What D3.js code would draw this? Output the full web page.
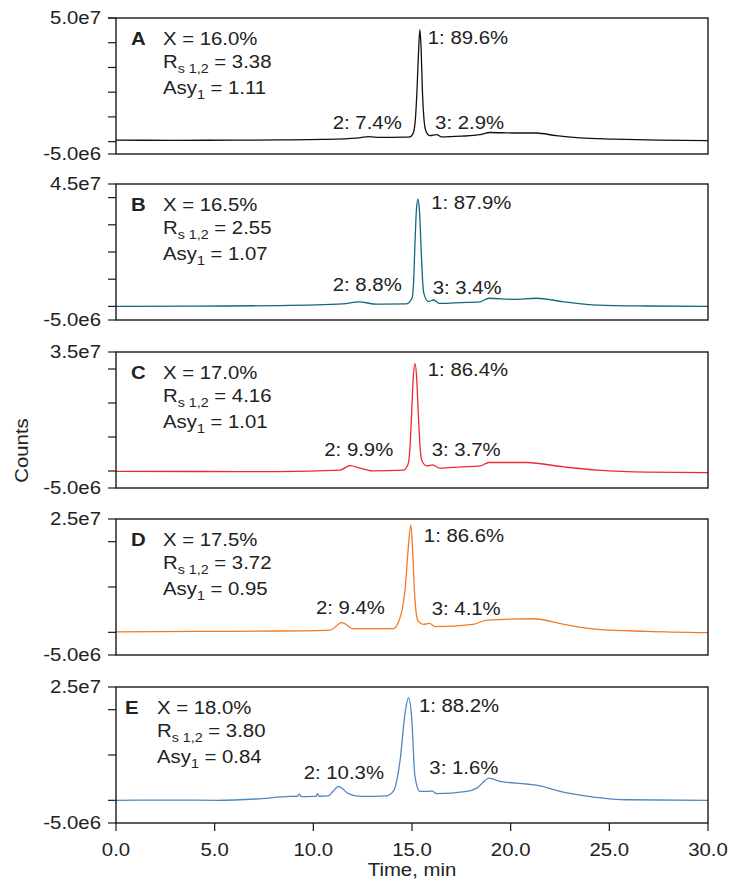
<!DOCTYPE html>
<html>
<head>
<meta charset="utf-8">
<script src="https://cdn.jsdelivr.net/npm/d3@7"></script>
<style>
  body { margin: 0; background: #fff; }
  svg text { font-family: "Liberation Sans", Arial, Helvetica, sans-serif; fill: #222; }
</style>
</head>
<body>
<div id="chart"></div>
<script>
// counts are stored in units of 1e6
var panelNames = ['A', 'B', 'C', 'D', 'E'];
var panelColors = ['#111111', '#13677f', '#ee2a2e', '#f27b22', '#4d88c2'];
var yMax = [50, 45, 35, 25, 25];
var yMin = -5;
var xLabel = 'Time, min';
var yLabel = 'Counts';
var xTicks = [0, 5, 10, 15, 20, 25, 30];

var xValues = ['X = 16.0%', 'X = 16.5%', 'X = 17.0%', 'X = 17.5%', 'X = 18.0%'];
var rsValues = ['3.38', '2.55', '4.16', '3.72', '3.80'];
var asyValues = ['1.11', '1.07', '1.01', '0.95', '0.84'];
var peak1Labels = ['1: 89.6%', '1: 87.9%', '1: 86.4%', '1: 86.6%', '1: 88.2%'];
var peak2Labels = ['2: 7.4%', '2: 8.8%', '2: 9.9%', '2: 9.4%', '2: 10.3%'];
var peak3Labels = ['3: 2.9%', '3: 3.4%', '3: 3.7%', '3: 4.1%', '3: 1.6%'];

var timeA = [0, 3, 6, 8.3, 10.5, 12.2, 12.8, 13.4, 14.6, 14.9, 15.07, 15.18, 15.26, 15.34, 15.4, 15.46, 15.53, 15.62, 15.71, 15.9, 16.25, 16.5, 17.5, 18.45, 18.95, 20.1, 21.3, 22.3, 23.5, 25.2, 27.5, 30];
var countsA = [0.6, 0.55, 0.6, 0.7, 0.9, 1.4, 2.0, 1.7, 1.8, 1.9, 3.6, 10, 22, 38, 45.3, 38, 20, 8, 4.2, 2.4, 2.8, 1.9, 2.2, 2.8, 3.7, 3.5, 3.5, 2.4, 1.5, 1.0, 0.6, 0.4];

var timeB = [0, 4, 8.3, 11.5, 12.3, 13.2, 14.7, 15.0, 15.08, 15.15, 15.22, 15.3, 15.38, 15.47, 15.55, 15.6, 15.83, 16.1, 16.4, 17.5, 18.45, 18.9, 20.1, 21.3, 22.7, 24.4, 26.9, 30];
var countsB = [0, 0.1, 0.3, 0.9, 1.7, 0.8, 0.9, 3.0, 9, 23, 35, 39.4, 35, 20, 8, 4.8, 1.8, 2.35, 1.1, 1.4, 1.7, 3.0, 2.6, 3.0, 1.7, 0.5, 0.15, 0];

var timeC = [0, 4, 8.3, 11.35, 11.86, 12.37, 13.0, 14.56, 14.8, 14.9, 14.98, 15.07, 15.15, 15.23, 15.32, 15.41, 15.5, 15.75, 16.05, 16.4, 17.5, 18.45, 18.9, 20.8, 22.7, 24.4, 26.9, 30];
var countsC = [-0.1, -0.15, -0.18, 0.24, 1.6, 0.83, 0.03, 0.24, 2.0, 7, 16.8, 28, 31.6, 28, 16.8, 7, 3.0, 1.5, 1.8, 0.83, 1.2, 1.5, 2.5, 2.5, 1.2, 0.24, -0.35, -0.47];

var timeD = [0, 4, 8.3, 10.85, 11.44, 12.03, 14.05, 14.3, 14.5, 14.65, 14.8, 14.94, 15.03, 15.12, 15.22, 15.32, 15.58, 15.88, 16.17, 18.1, 18.79, 21.15, 22.7, 24.4, 26.9, 30];
var countsD = [0.1, 0.2, 0.29, 0.5, 2.13, 0.81, 0.81, 2.13, 5, 9.45, 18, 23.7, 18, 9.45, 4, 2.48, 1.76, 1.98, 1.25, 1.76, 2.7, 3.0, 1.76, 0.66, 0.22, -0.07];

var timeE = [0, 3, 5.1, 7.1, 8.8, 9.2, 9.29, 9.4, 10.0, 10.15, 10.2, 10.3, 10.76, 11.0, 11.27, 11.5, 11.77, 12.37, 13.7, 14.05, 14.4, 14.65, 14.82, 14.98, 15.15, 15.4, 15.9, 16.0, 16.25, 17.77, 18.28, 18.92, 19.46, 20.8, 21.5, 22.5, 24.2, 25.9, 30];
var countsE = [0, 0.05, 0, 0.29, 0.86, 0.9, 1.39, 0.8, 0.86, 0.9, 1.46, 0.9, 1.0, 2.0, 3.07, 2.5, 1.46, 0.86, 1.0, 1.96, 8.96, 19.3, 22.6, 18.5, 5.28, 1.96, 1.96, 2.1, 1.46, 1.96, 2.7, 4.92, 4.17, 3.6, 3.2, 1.96, 0.73, 0.13, 0];

var times = [timeA, timeB, timeC, timeD, timeE];
var counts = [countsA, countsB, countsC, countsD, countsE];

// layout
var W = 743, H = 882;
var left = 116, right = 708;
var panelTops = [18, 184, 352, 519, 687];
var panelH = 136;
var textX = [163, 163, 163, 163, 157];
// peak label anchors: [time of label, px below panel top]
var p1Pos = [[15.8, 26], [15.97, 25], [15.8, 24], [15.6, 23], [15.35, 25]];
var p2Pos = [[14.48, 111], [14.48, 107], [14.05, 104], [13.63, 95], [13.58, 92]];
var p3Pos = [[16.17, 111], [16.05, 110], [16.0, 104], [16.0, 96], [15.88, 87]];
var sx = 1.1; // the reference type is drawn a little wide
var fs = 18.5;

var svg = d3.select('#chart').append('svg')
  .attr('width', W)
  .attr('height', H);

var x = d3.scaleLinear().domain([0, 30]).range([left, right]);

function addText(g, px, py, str, size, anchor, weight) {
  return g.append('text')
    .attr('transform', 'translate(' + px + ',' + py + ') scale(' + sx + ',1)')
    .attr('text-anchor', anchor || 'start')
    .style('font-size', size + 'px')
    .style('font-weight', weight || 'normal')
    .text(str);
}

// 5.0e7 style, plain hyphen for the minus
var fmt = function(d) { return d3.format('.1e')(d * 1e6).replace('+', '').replace('\u2212', '-'); };

panelNames.forEach(function(name, i) {
  var top = panelTops[i];
  var y = d3.scaleLinear().domain([yMin, yMax[i]]).range([top + panelH, top]);
  var g = svg.append('g');

  // y ticks every 1e7 plus the ends, labels only at the ends
  var ticks = d3.range(0, yMax[i] + 0.01, 10).concat([yMin, yMax[i]]);
  g.selectAll('line.tick').data(ticks).enter().append('line')
    .attr('x1', left - 8).attr('x2', left)
    .attr('y1', function(d) { return y(d); })
    .attr('y2', function(d) { return y(d); })
    .attr('stroke', '#1a1a1a').attr('stroke-width', 1.2);
  [yMin, yMax[i]].forEach(function(d) {
    addText(g, left - 15, y(d) + 6, fmt(d), fs, 'end');
  });

  // trace
  var pts = times[i].map(function(t, k) { return [t, counts[i][k]]; });
  var line = d3.line()
    .x(function(d) { return x(d[0]); })
    .y(function(d) { return y(d[1]); })
    .curve(d3.curveMonotoneX);
  g.append('path').datum(pts)
    .attr('d', line)
    .attr('fill', 'none')
    .attr('stroke', panelColors[i])
    .attr('stroke-width', 1.3)
    .attr('stroke-linejoin', 'round');

  // frame
  g.append('rect')
    .attr('x', left).attr('y', top)
    .attr('width', right - left).attr('height', panelH)
    .attr('fill', 'none').attr('stroke', '#1a1a1a').attr('stroke-width', 1.4);

  // panel annotations
  addText(g, textX[i] - 32, top + 27, name, fs, 'start', 'bold');
  addText(g, textX[i], top + 27, xValues[i], fs);
  var rs = addText(g, textX[i], top + 50, 'R', fs);
  rs.append('tspan').attr('dy', 5).style('font-size', '13px').text('s 1,2');
  rs.append('tspan').attr('dy', -5).text(' = ' + rsValues[i]);
  var asy = addText(g, textX[i], top + 76, 'Asy', fs);
  asy.append('tspan').attr('dy', 5).style('font-size', '13px').text('1');
  asy.append('tspan').attr('dy', -5).text(' = ' + asyValues[i]);

  addText(g, x(p1Pos[i][0]), top + p1Pos[i][1], peak1Labels[i], fs);
  addText(g, x(p2Pos[i][0]), top + p2Pos[i][1], peak2Labels[i], fs, 'end');
  addText(g, x(p3Pos[i][0]), top + p3Pos[i][1], peak3Labels[i], fs);
});

// x axis below the last panel
var bottom = panelTops[4] + panelH;
var xg = svg.append('g');
xg.selectAll('line').data(xTicks).enter().append('line')
  .attr('x1', function(d) { return x(d); })
  .attr('x2', function(d) { return x(d); })
  .attr('y1', bottom).attr('y2', bottom + 8)
  .attr('stroke', '#1a1a1a').attr('stroke-width', 1.2);
xTicks.forEach(function(d) {
  addText(xg, x(d), bottom + 33, d3.format('.1f')(d), fs, 'middle');
});
addText(svg, (left + right) / 2, bottom + 53, xLabel, fs, 'middle');

svg.append('text')
  .attr('transform', 'translate(28,' + ((panelTops[0] + bottom) / 2 + 30) + ') rotate(-90) scale(' + sx + ',1)')
  .attr('text-anchor', 'middle')
  .style('font-size', fs + 'px')
  .text(yLabel);
</script>
</body>
</html>
